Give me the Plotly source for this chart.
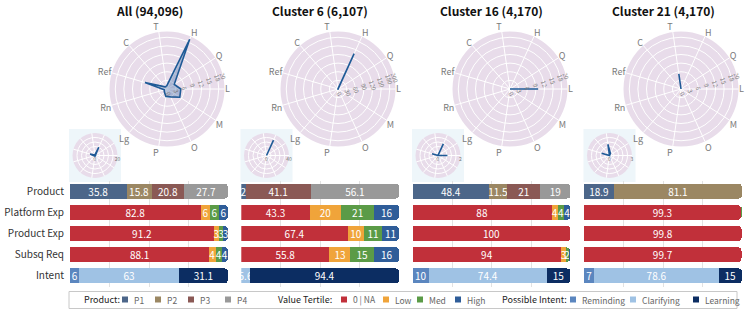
import plotly.graph_objects as go

W, H = 747, 315
FONT = "Noto Sans CJK KR"

# ---------------- data ----------------
categories = ["T", "H", "Q", "L", "M", "O", "P", "Lg", "Rn", "Ref", "C"]
panel_titles = ["All (94,096)", "Cluster 6 (6,107)", "Cluster 16 (4,170)", "Cluster 21 (4,170)"]
rows = ["Product", "Platform Exp", "Product Exp", "Subsq Req", "Intent"]

# main radar values (per category, order as `categories`)
all_main = [1.0, 19.0, 3.0, 4.8, 5.3, 3.0, 2.6, 1.4, 1.0, 8.0, 1.0]
c6_main = [0.5, 135.0, 0.5, 0.5, 0.5, 0.5, 0.5, 0.5, 0.5, 0.5, 0.5]
c16_main = [0.0, 0.0, 0.0, 9.8, 0.0, 0.0, 0.0, 0.0, 0.0, 0.0, 0.0]
c21_main = [5.3, 0.0, 0.0, 0.0, 0.0, 0.0, 0.0, 0.0, 0.0, 0.0, 0.0]
main_max = [20, 200, 20, 20]
main_ticks = [[0, 3, 6, 9, 12, 15, 18, 20],
              [0, 30, 60, 90, 120, 150, 180, 200],
              [0, 3, 6, 9, 12, 15, 18, 20],
              [0, 3, 6, 9, 12, 15, 18, 20]]

# inset radar values
all_inset = [0.5, 8.0, 0.5, 0.5, 0.5, 0.5, 0.5, 0.5, 1.0, 4.5, 0.5]
c6_inset = [0.0, 30.0, 0.0, 0.0, 0.0, 0.0, 0.0, 0.0, 0.0, 0.0, 0.0]
c16_inset = [0.0, 1.14, 0.0, 0.84, 0.0, 0.0, 0.0, 0.0, 0.0, 0.55, 0.0]
c21_inset = [1.5, 0.3, 0.0, 0.0, 0.0, 0.0, 0.0, 0.0, 0.0, 1.1, 0.0]
inset_max = [20, 40, 2, 3]

# product shares (per panel)
P1 = [35.8, 2.8, 48.4, 18.9]; P1_lbl = ["35.8", "2", "48.4", "18.9"]
P2 = [15.8, 0.0, 11.5, 81.0]; P2_lbl = ["15.8", "", "11.5", "81.1"]
P3 = [20.8, 41.1, 20.9, 0.0]; P3_lbl = ["20.8", "41.1", "21", ""]
P4 = [27.5, 56.0, 19.1, 0.0]; P4_lbl = ["27.7", "56.1", "19", ""]

# value tertiles: Platform Exp
plat_na = [82.8, 43.3, 88.0, 99.3]; plat_na_lbl = ["82.8", "43.3", "88", "99.3"]
plat_low = [5.8, 19.9, 4.0, 0.0]; plat_low_lbl = ["6", "20", "4", ""]
plat_med = [5.7, 20.9, 4.0, 0.6]; plat_med_lbl = ["6", "21", "4", ""]
plat_high = [5.6, 15.8, 3.9, 0.0]; plat_high_lbl = ["6", "16", "4", ""]
# Product Exp
pexp_na = [91.2, 67.4, 99.9, 99.8]; pexp_na_lbl = ["91.2", "67.4", "100", "99.8"]
pexp_low = [2.9, 10.4, 0.0, 0.0]; pexp_low_lbl = ["3", "10", "", ""]
pexp_med = [2.9, 11.2, 0.0, 0.1]; pexp_med_lbl = ["3", "11", "", ""]
pexp_high = [2.9, 10.9, 0.0, 0.0]; pexp_high_lbl = ["3", "11", "", ""]
# Subsq Req
subsq_na = [88.1, 55.8, 94.0, 99.7]; subsq_na_lbl = ["88.1", "55.8", "94", "99.7"]
subsq_low = [4.0, 13.3, 3.0, 0.0]; subsq_low_lbl = ["4", "13", "3", ""]
subsq_med = [4.0, 15.0, 1.8, 0.2]; subsq_med_lbl = ["4", "15", "2", ""]
subsq_high = [3.8, 15.8, 1.1, 0.0]; subsq_high_lbl = ["4", "16", "", ""]

# possible intent
int_rem = [5.9, 0.0, 10.4, 6.6]; int_rem_lbl = ["6", "", "10", "7"]
int_cla = [63.0, 5.6, 74.4, 78.6]; int_cla_lbl = ["63", "5.6", "74.4", "78.6"]
int_lea = [31.0, 94.3, 15.1, 14.7]; int_lea_lbl = ["31.1", "94.4", "15", "15"]

product_names = ["P1", "P2", "P3", "P4"]
product_colors = ["#4c6689", "#9b8763", "#8a5955", "#999999"]
tertile_names = ["0 | NA", "Low", "Med", "High"]
tertile_colors = ["#c1303a", "#f0a43a", "#5b9b47", "#2f5d99"]
intent_names = ["Reminding", "Clarifying", "Learning"]
intent_colors = ["#5b86bf", "#9fc2e4", "#0c2d62"]

# ---------------- layout geometry (pixels) ----------------
def pxx(x):
    return x / W

def pxy(y):
    return 1 - y / H

bar_left = [70, 241.3, 412.6, 584]
bar_w = 158
bar_top, bar_bot = 180.5, 286.5
main_cx = [167, 338, 510, 681]
main_cy, main_r = 89, 57.5
inset_cx = [95, 266.5, 438, 609.5]
inset_cy, inset_r = 155.5, 22.5

fig = go.Figure()

# ---------------- bars ----------------
product_series = [(P1, P1_lbl), (P2, P2_lbl), (P3, P3_lbl), (P4, P4_lbl)]
tertile_series = [
    [(plat_na, plat_na_lbl), (pexp_na, pexp_na_lbl), (subsq_na, subsq_na_lbl)],
    [(plat_low, plat_low_lbl), (pexp_low, pexp_low_lbl), (subsq_low, subsq_low_lbl)],
    [(plat_med, plat_med_lbl), (pexp_med, pexp_med_lbl), (subsq_med, subsq_med_lbl)],
    [(plat_high, plat_high_lbl), (pexp_high, pexp_high_lbl), (subsq_high, subsq_high_lbl)],
]
intent_series = [(int_rem, int_rem_lbl), (int_cla, int_cla_lbl), (int_lea, int_lea_lbl)]

def add_bar(k, ys, xs, texts, color, name):
    sfx = "" if k == 0 else str(k + 1)
    fig.add_trace(go.Bar(
        y=ys, x=xs, text=texts, orientation="h", name=name,
        marker=dict(color=color, line=dict(width=0)),
        textposition="inside", insidetextanchor="middle", textangle=0,
        textfont=dict(color="white", size=10, family=FONT),
        xaxis="x" + sfx, yaxis="y" + sfx, showlegend=False,
        hoverinfo="skip", cliponaxis=False,
    ))

for k in range(4):
    for (vals, lbls), col, nm in zip(product_series, product_colors, product_names):
        add_bar(k, ["Product"], [vals[k]], [lbls[k]], col, nm)
    for ti, col, nm in zip(range(4), tertile_colors, tertile_names):
        ser = tertile_series[ti]
        add_bar(k, rows[1:4], [s[0][k] for s in ser], [s[1][k] for s in ser], col, nm)
    for (vals, lbls), col, nm in zip(intent_series, intent_colors, intent_names):
        add_bar(k, ["Intent"], [vals[k]], [lbls[k]], col, nm)

for k in range(4):
    sfx = "" if k == 0 else str(k + 1)
    fig.layout["xaxis" + sfx] = dict(
        domain=[pxx(bar_left[k]), pxx(bar_left[k] + bar_w)], range=[0, 100],
        anchor="y" + sfx, showticklabels=False, tickvals=[25, 50, 75],
        showgrid=True, gridcolor="#e2e2e2", gridwidth=1, zeroline=False, fixedrange=True)
    fig.layout["yaxis" + sfx] = dict(
        domain=[pxy(bar_bot), pxy(bar_top)], anchor="x" + sfx, type="category",
        categoryorder="array", categoryarray=rows, autorange="reversed",
        showticklabels=(k == 0), ticks="", showgrid=False, zeroline=False,
        tickfont=dict(size=10, color="#333", family=FONT), ticklabelstandoff=5)

# ---------------- radars ----------------
mains = [all_main, c6_main, c16_main, c21_main]
insets = [all_inset, c6_inset, c16_inset, c21_inset]
POLAR_BG = "#e8dcea"

def add_radar(idx, vals):
    sub = "polar" if idx == 1 else "polar%d" % idx
    fig.add_trace(go.Scatterpolar(
        r=vals + [vals[0]], theta=categories + [categories[0]], subplot=sub,
        mode="lines", fill="toself", fillcolor="rgba(80,120,175,0.4)",
        line=dict(color="#1f5a96", width=1.6), showlegend=False, hoverinfo="skip"))

shapes = []
for k in range(4):
    add_radar(k + 1, mains[k])
    add_radar(k + 5, insets[k])
    cx, cy, r = main_cx[k], main_cy, main_r
    tv = main_ticks[k]
    fig.layout["polar" if k == 0 else "polar%d" % (k + 1)] = dict(
        domain=dict(x=[pxx(cx - r), pxx(cx + r)], y=[pxy(cy + r), pxy(cy - r)]),
        bgcolor=POLAR_BG,
        angularaxis=dict(type="category", categoryarray=categories, rotation=98.18,
                         direction="clockwise", showline=False, ticks="",
                         gridcolor="white", gridwidth=1,
                         tickfont=dict(size=9, color="#7a7a7a", family=FONT)),
        radialaxis=dict(range=[0, main_max[k]], tickvals=tv, ticktext=[str(t) for t in tv],
                        angle=20, showline=False, ticks="", gridcolor="white", gridwidth=1,
                        tickfont=dict(size=6, color="#777", family=FONT)))
    icx, ir = inset_cx[k], inset_r
    m = inset_max[k]
    itv = [0, m / 5, 2 * m / 5, 3 * m / 5, 4 * m / 5, m]
    fig.layout["polar%d" % (k + 5)] = dict(
        domain=dict(x=[pxx(icx - ir), pxx(icx + ir)], y=[pxy(inset_cy + ir), pxy(inset_cy - ir)]),
        bgcolor=POLAR_BG,
        angularaxis=dict(type="category", categoryarray=categories, rotation=98.18,
                         direction="clockwise", showline=False, ticks="",
                         showticklabels=False, gridcolor="white", gridwidth=1),
        radialaxis=dict(range=[0, m], tickvals=itv,
                        ticktext=["0", "", "", "", "", str(m)], angle=0,
                        showline=False, ticks="", gridcolor="white", gridwidth=1,
                        tickfont=dict(size=5, color="#777", family=FONT)))
    shapes.append(dict(type="rect", xref="paper", yref="paper", layer="below",
                       x0=pxx(icx - 26), x1=pxx(icx + 26), y0=pxy(182), y1=pxy(129),
                       fillcolor="#eef6fa", line=dict(width=0)))

# ---------------- titles ----------------
annotations = []
for k in range(4):
    annotations.append(dict(
        x=pxx(bar_left[k] + bar_w / 2), y=pxy(10), xref="paper", yref="paper",
        text="<b>%s</b>" % panel_titles[k], showarrow=False, xanchor="center", yanchor="middle",
        font=dict(size=12, color="#111", family=FONT)))

# ---------------- legend (manual) ----------------
leg_y = 299.5
shapes.append(dict(type="rect", xref="paper", yref="paper", x0=pxx(69), x1=pxx(737),
                   y0=pxy(308.5), y1=pxy(291.5), line=dict(color="#c8c8c8", width=1),
                   fillcolor="rgba(0,0,0,0)"))
legend_groups = [
    ("Product:", 82, product_names, product_colors, [122, 155, 188, 225]),
    ("Value Tertile:", 276, tertile_names, tertile_colors, [341, 383, 417, 455]),
    ("Possible Intent:", 500, intent_names, intent_colors, [570, 630, 693]),
]
for title, tx, names, cols, sx in legend_groups:
    annotations.append(dict(x=pxx(tx), y=pxy(leg_y), xref="paper", yref="paper", text=title,
                            showarrow=False, xanchor="left", yanchor="middle",
                            font=dict(size=9, color="#222", family=FONT)))
    for nm, col, x0 in zip(names, cols, sx):
        shapes.append(dict(type="rect", xref="paper", yref="paper",
                           x0=pxx(x0), x1=pxx(x0 + 6), y0=pxy(leg_y + 3), y1=pxy(leg_y - 3),
                           fillcolor=col, line=dict(width=0)))
        annotations.append(dict(x=pxx(x0 + 10), y=pxy(leg_y), xref="paper", yref="paper",
                                text=nm, showarrow=False, xanchor="left", yanchor="middle",
                                font=dict(size=8.5, color="#666", family=FONT)))

fig.update_layout(
    width=W, height=H, margin=dict(l=0, r=0, t=0, b=0),
    paper_bgcolor="white", plot_bgcolor="white",
    barmode="stack", bargap=0.29, barcornerradius=4,
    uniformtext=dict(minsize=10, mode="show"),
    font=dict(family=FONT), showlegend=False,
    shapes=shapes, annotations=annotations,
)

fig.write_html("out.html", config={"displayModeBar": False, "staticPlot": True},
               post_script="document.body.style.margin='0';document.body.style.overflow='hidden';")
